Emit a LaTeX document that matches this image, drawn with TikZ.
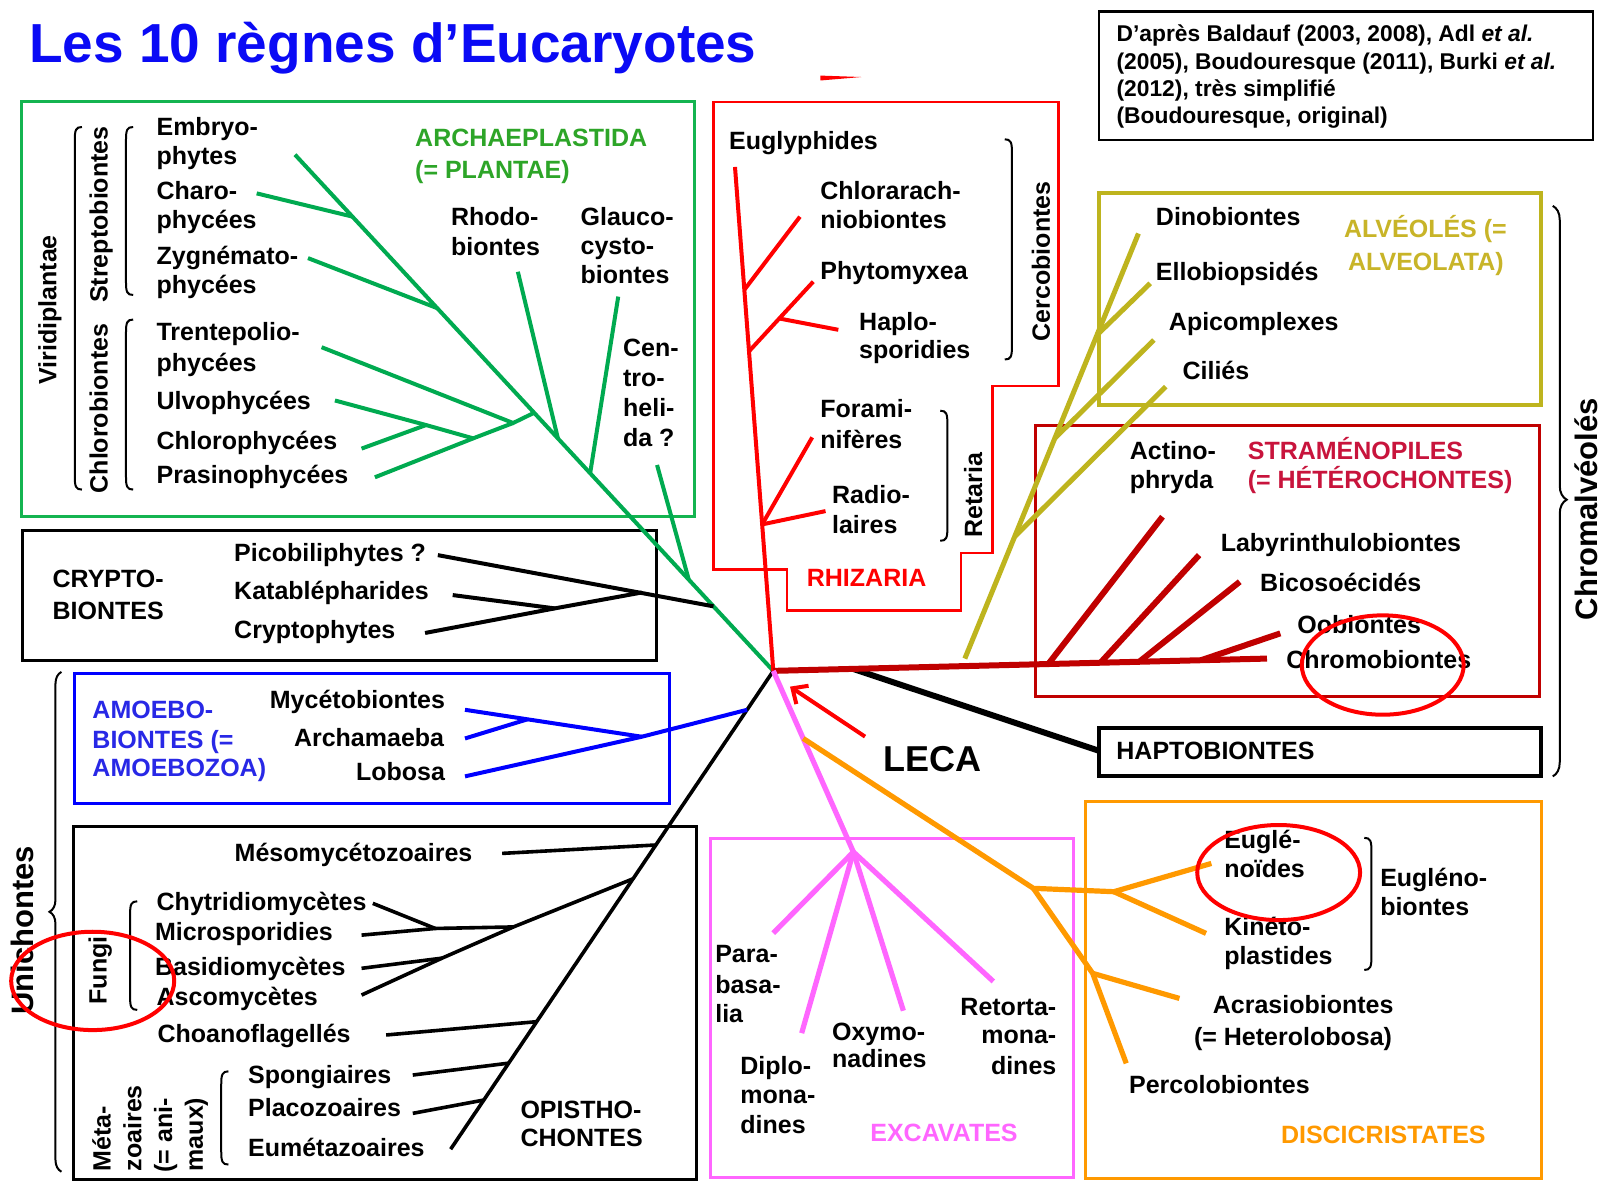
\documentclass[tikz,border=0pt]{standalone}
\usepackage{fontspec}
\setmainfont{Liberation Sans}
\usetikzlibrary{arrows.meta,decorations.pathreplacing}
\definecolor{cgreen}{RGB}{0,170,80}
\definecolor{cgreenbox}{RGB}{20,180,80}
\definecolor{cgreentxt}{RGB}{45,165,40}
\definecolor{cred}{RGB}{255,0,0}
\definecolor{colive}{RGB}{190,180,30}
\definecolor{colivetxt}{RGB}{200,180,40}
\definecolor{cdred}{RGB}{192,0,0}
\definecolor{cdredtxt}{RGB}{200,20,60}
\definecolor{cblue}{RGB}{0,0,255}
\definecolor{cbluetxt}{RGB}{40,40,230}
\definecolor{cpink}{RGB}{255,102,255}
\definecolor{corange}{RGB}{255,153,0}
\definecolor{ctitle}{RGB}{10,10,245}
\newcommand\labW[5][]{\node[lbl,anchor=base west,#1] (#2) at (#3,#4) {#5};}
\newcommand\labE[5][]{\node[lbl,anchor=base east,#1] (#2) at (#3,#4) {#5};}
\newcommand\labR[5][]{\node[lbl,anchor=base west,rotate=90,#1] (#2) at (#3,#4) {#5};}
\newcommand\lbrk[3]{\draw[brk] (#1+7,#2) .. controls (#1+1,#2) and (#1,#2+3) .. (#1,#2+13) -- (#1,#3-13) .. controls (#1,#3-3) and (#1+1,#3) .. (#1+7,#3);}
\newcommand\rbrk[3]{\draw[brk] (#1-7,#2) .. controls (#1-1,#2) and (#1,#2+3) .. (#1,#2+13) -- (#1,#3-13) .. controls (#1,#3-3) and (#1-1,#3) .. (#1-7,#3);}
\begin{document}
\begin{tikzpicture}[x=0.51212pt,y=-0.51212pt,
  lbl/.style={font=\bfseries\fontsize{12.5}{15}\selectfont, inner sep=0pt, text=black},
  big/.style={font=\bfseries\fontsize{15.5}{18}\selectfont},
  cit/.style={font=\bfseries\fontsize{11.4}{13.8}\selectfont},
  brk/.style={draw=black, line width=1pt},
  gline/.style={draw=cgreen, line width=2pt},
  rline/.style={draw=cred, line width=2pt},
  kline/.style={draw=black, line width=2pt},
  bline/.style={draw=cblue, line width=2pt},
  aline/.style={draw=colive, line width=2.5pt},
  dline/.style={draw=cdred, line width=3pt},
  pline/.style={draw=cpink, line width=2.6pt},
  oline/.style={draw=corange, line width=2.6pt},
  circ/.style={draw=cred, line width=2pt}
]
\useasboundingbox (0,0) rectangle (1568,1153);
\fill[white] (0,0) rectangle (1568,1153);

% ---------- title and citation
\node[anchor=base west, inner sep=0pt, font=\bfseries\fontsize{27.5}{30}\selectfont, text=ctitle] (title) at (28,61) {Les 10 règnes d’Eucaryotes};
\draw[black, line width=1.2pt] (1073,11.4) rectangle (1555.4,136.7);
\labW[cit]{tCit1}{1089.8}{40.7}{D’après Baldauf (2003, 2008), Adl \textit{et al.}}
\labW[cit]{tCit2}{1089.8}{67.7}{(2005), Boudouresque (2011), Burki \textit{et al.}}
\labW[cit]{tCit3}{1089.8}{94.4}{(2012), très simplifié}
\labW[cit]{tCit4}{1089.8}{120.4}{(Boudouresque, original)}
\fill[cred] (801,73.8) -- (841,75.2) -- (801,78.6) -- cycle;

% ---------- boxes
\draw[cgreenbox, line width=1.5pt] (21,99.3) rectangle (678,504.5);
\draw[cred, line width=1.2pt] (696.5,99.3) -- (1033.3,99.3) -- (1033.3,377) -- (969.2,377) -- (969.2,540) -- (938,540) -- (938,596) -- (768.5,596) -- (768.5,556) -- (696.5,556) -- cycle;
\draw[black, line width=1.5pt] (21.9,517.5) rectangle (641,644.4);
\draw[cblue, line width=1.5pt] (72.9,657.4) rectangle (653.3,784.3);
\draw[black, line width=1.5pt] (72,806.5) rectangle (680,1151.5);
\draw[colive, line width=2pt] (1073,188) rectangle (1505,395.4);
\draw[cdred, line width=1.5pt] (1011,415) rectangle (1503,680.5);
\draw[black, line width=2pt] (1073,711) rectangle (1504.6,758);
\coordinate (hapW) at (1073,733);
\draw[cpink, line width=1.5pt] (693.2,818.5) rectangle (1048,1150);
\draw[corange, line width=1.5pt] (1059.8,782.7) rectangle (1504.7,1151);

% ---------- root
\coordinate (R) at (755,655);

% ---------- green tree
\coordinate (gTop) at (288,151);
\coordinate (gCharo) at (344.1,211.5);
\coordinate (gZyg) at (427.2,301);
\coordinate (gChl) at (521.5,403);
\coordinate (gRho) at (544.7,428);
\coordinate (gGla) at (576.2,462);
\coordinate (gCen) at (672.5,566);
\coordinate (gCry) at (696.6,592);
\coordinate (eCharo) at (250.6,188.8);
\coordinate (eZyg) at (300.7,252);
\coordinate (eTren) at (314,339);
\coordinate (jTren) at (501,413);
\coordinate (eUlvo) at (327,391);
\coordinate (jUC) at (416,415);
\coordinate (eChlo) at (353,438);
\coordinate (jUCP) at (462,428);
\coordinate (ePras) at (366,466);
\coordinate (eRho) at (505.6,265.3);
\coordinate (eGla) at (603.6,289.6);
\coordinate (eCen) at (641.5,454);
\draw[gline] (R) -- (gTop);
\draw[gline] (eCharo) -- (gCharo);
\draw[gline] (eZyg) -- (gZyg);
\draw[gline] (eTren) -- (jTren) -- (gChl);
\draw[gline] (ePras) -- (jUCP) -- (jTren);
\draw[gline] (eUlvo) -- (jUC) -- (jUCP);
\draw[gline] (eChlo) -- (jUC);
\draw[gline] (eRho) -- (gRho);
\draw[gline] (eGla) -- (gGla);
\draw[gline] (eCen) -- (gCen);

% ---------- cryptobiontes
\coordinate (eP) at (427.5,542);
\coordinate (eK) at (442,581);
\coordinate (eC) at (415,618);
\coordinate (jKC) at (541.6,594);
\coordinate (jPK) at (626.6,578.5);
\draw[kline] (eP) -- (gCry);
\draw[kline] (eK) -- (jKC);
\draw[kline] (eC) -- (jKC) -- (jPK);

% ---------- opisthochontes
\coordinate (kEnd) at (440,1122);
\coordinate (kBlue) at (729.4,693);
\coordinate (kMes) at (640.3,825);
\coordinate (kFun) at (618.1,858);
\coordinate (kCho) at (524,997.5);
\coordinate (kSpo) at (496.7,1038);
\coordinate (kPla) at (472.4,1074);
\coordinate (eMes) at (490.3,833.2);
\coordinate (eChy) at (364,882);
\coordinate (jCM) at (425,906.5);
\coordinate (eMic) at (353,913);
\coordinate (jF) at (501.3,905);
\coordinate (eBas) at (353,945.4);
\coordinate (jBA) at (431.5,935.5);
\coordinate (eAsc) at (353,971.5);
\coordinate (eCho) at (377,1010.5);
\coordinate (eSpo) at (403,1049.6);
\coordinate (ePla) at (403,1087);
\draw[kline, line width=1.8pt] (R) -- (kEnd);
\draw[kline, line width=1.8pt] (eMes) -- (kMes);
\draw[kline, line width=1.8pt] (eChy) -- (jCM);
\draw[kline, line width=1.8pt] (eMic) -- (jCM) -- (jF);
\draw[kline, line width=1.8pt] (eAsc) -- (jBA) -- (jF) -- (kFun);
\draw[kline, line width=1.8pt] (eBas) -- (jBA);
\draw[kline, line width=1.8pt] (eCho) -- (kCho);
\draw[kline, line width=1.8pt] (eSpo) -- (kSpo);
\draw[kline, line width=1.8pt] (ePla) -- (kPla);

% ---------- amoebobiontes
\coordinate (eMyc) at (454,693);
\coordinate (eArc) at (454,721);
\coordinate (jMA) at (515,702.3);
\coordinate (eLob) at (454,758);
\coordinate (jL) at (626.6,719.3);
\draw[bline] (eMyc) -- (jL);
\draw[bline] (eArc) -- (jMA);
\draw[bline] (eLob) -- (jL) -- (kBlue);

% ---------- rhizaria
\coordinate (rTop) at (717.6,163);
\coordinate (rChl) at (726.7,283);
\coordinate (rPhy) at (731.3,343);
\coordinate (rRet) at (744.1,512);
\coordinate (eChlA) at (781,211.6);
\coordinate (ePhy) at (794,275);
\coordinate (jHap) at (761,311);
\coordinate (eHap) at (818.5,322);
\coordinate (eFor) at (793,427);
\coordinate (eRad) at (806,499);
\draw[rline] (R) -- (rTop);
\draw[rline] (rChl) -- (eChlA);
\draw[rline] (rPhy) -- (ePhy);
\draw[rline] (jHap) -- (eHap);
\draw[rline] (rRet) -- (eFor);
\draw[rline] (rRet) -- (eRad);

% ---------- alveolata
\coordinate (aBot) at (942,643);
\coordinate (aTop) at (1111.5,228);
\coordinate (aEll) at (1071.1,327);
\coordinate (aApi) at (1029.8,428);
\coordinate (aCil) at (990.6,524);
\coordinate (eEll) at (1123,276.6);
\coordinate (eApi) at (1126.5,332);
\coordinate (eCil) at (1138.2,377.5);
\draw[aline] (aBot) -- (aTop);
\draw[aline] (aEll) -- (eEll);
\draw[aline] (aApi) -- (eApi);
\draw[aline] (aCil) -- (eCil);

% ---------- stramenopiles and haptobiontes
\coordinate (drEnd) at (1237,643);
\coordinate (drAct) at (1023.5,648.3);
\coordinate (drLab) at (1074.5,647);
\coordinate (drBic) at (1112.3,646.1);
\coordinate (drOob) at (1172.6,644.6);
\coordinate (hStart) at (833,653.1);
\coordinate (eAct) at (1135,504.5);
\coordinate (eLab) at (1170.7,542);
\coordinate (eBic) at (1210.4,568);
\coordinate (eOob) at (1250,618.4);
\draw[kline, line width=3pt] (hStart) -- (hapW);
\draw[dline] (R) -- (drEnd);
\draw[dline] (drAct) -- (eAct);
\draw[dline] (drLab) -- (eLab);
\draw[dline] (drBic) -- (eBic);
\draw[dline] (drOob) -- (eOob);

% ---------- excavates and discicristates
\coordinate (pJ) at (833.2,831.8);
\coordinate (ePar) at (755,911);
\coordinate (eDip) at (782.7,1008.7);
\coordinate (eOxy) at (882,986.8);
\coordinate (eRet) at (969.8,958.2);
\coordinate (dS) at (784.2,721);
\coordinate (dJ1) at (1008.9,867.3);
\coordinate (jEug) at (1087.5,870.6);
\coordinate (eEug) at (1182.7,843);
\coordinate (eKin) at (1177.5,911.3);
\coordinate (jAcr) at (1066.8,950.3);
\coordinate (ePer) at (1099.6,1038.2);
\coordinate (eAcr) at (1151.5,974.8);
\draw[pline] (R) -- (pJ);
\draw[pline] (pJ) -- (ePar);
\draw[pline] (pJ) -- (eDip);
\draw[pline] (pJ) -- (eOxy);
\draw[pline] (pJ) -- (eRet);
\draw[oline] (dS) -- (dJ1) -- (jEug) -- (eEug);
\draw[oline] (jEug) -- (eKin);
\draw[oline] (dJ1) -- (jAcr) -- (ePer);
\draw[oline] (jAcr) -- (eAcr);

% ---------- LECA
\coordinate (lecaTail) at (844.6,719.2);
\coordinate (lecaHead) at (771.3,670.4);
\draw[cred, line width=2pt, -{Straight Barb[length=6pt,width=11pt]}] (lecaTail) -- (lecaHead);
\labW[font=\bfseries\fontsize{18}{20}\selectfont]{tLECA}{862.4}{752.8}{LECA}

% ---------- green labels
\labW{tEmb1}{152.5}{132}{Embryo-}
\labW{tEmb2}{152.5}{161}{phytes}
\labW{tCha1}{152.5}{195}{Charo-}
\labW{tCha2}{152.5}{223}{phycées}
\labW{tZyg1}{152.5}{258.7}{Zygnémato-}
\labW{tZyg2}{152.5}{286.4}{phycées}
\labW{tTre1}{152.5}{332}{Trentepolio-}
\labW{tTre2}{152.5}{363}{phycées}
\labW{tUlv}{152.5}{400.3}{Ulvophycées}
\labW{tChl}{152.5}{438.7}{Chlorophycées}
\labW{tPra}{152.5}{471.9}{Prasinophycées}
\labW[text=cgreentxt]{tArc1}{405}{143.2}{ARCHAEPLASTIDA}
\labW[text=cgreentxt]{tArc2}{405}{174}{(= PLANTAE)}
\labW{tRho1}{440}{219.7}{Rhodo-}
\labW{tRho2}{440}{249}{biontes}
\labW{tGla1}{566.5}{219.7}{Glauco-}
\labW{tGla2}{566.5}{248}{cysto-}
\labW{tGla3}{566.5}{277}{biontes}
\labW{tCen1}{608}{348}{Cen-}
\labW{tCen2}{608}{377.5}{tro-}
\labW{tCen3}{608}{407}{heli-}
\labW{tCen4}{608}{436}{da ?}
\labR{tStr}{105}{296}{Streptobiontes}
\labR{tChb}{105}{482}{Chlorobiontes}
\labR{tVir}{55}{376}{Viridiplantae}
\lbrk{73}{124}{478}
\lbrk{123}{124}{288}
\lbrk{123}{312}{478}

% ---------- crypto labels
\labW{tCry1}{51}{574}{CRYPTO-}
\labW{tCry2}{51}{604.5}{BIONTES}
\labW{tPic}{228.3}{548.4}{Picobiliphytes ?}
\labW{tKat}{228.3}{585.2}{Katablépharides}
\labW{tCrp}{228.3}{623.3}{Cryptophytes}

% ---------- amoebo labels
\labW[text=cbluetxt]{tAm1}{89.9}{701.4}{AMOEBO-}
\labW[text=cbluetxt]{tAm2}{89.9}{730.6}{BIONTES (=}
\labW[text=cbluetxt]{tAm3}{89.9}{758.3}{AMOEBOZOA)}
\labE{tMyc}{434.8}{691.6}{Mycétobiontes}
\labE{tArch}{434}{729}{Archamaeba}
\labE{tLob}{434.8}{762.2}{Lobosa}

% ---------- opistho labels
\labW{tMes}{228.8}{841.3}{Mésomycétozoaires}
\labW{tChy}{152.6}{888.5}{Chytridiomycètes}
\labW{tMic}{151}{917.8}{Microsporidies}
\labW{tBas}{151}{952}{Basidiomycètes}
\labW{tAsc}{152.6}{981.3}{Ascomycètes}
\labW{tCho}{153.4}{1018}{Choanoflagellés}
\labW{tSpo}{241.9}{1057.7}{Spongiaires}
\labW{tPla}{241.9}{1090.3}{Placozoaires}
\labW{tEum}{241.9}{1129.3}{Eumétazoaires}
\labW{tOp1}{507.8}{1091.9}{OPISTHO-}
\labW{tOp2}{507.8}{1119.6}{CHONTES}
\labR{tFun}{104}{981}{Fungi}
\labR{tMe1}{108}{1144}{Méta-}
\labR{tMe2}{138}{1144}{zoaires}
\labR{tMe3}{168}{1145}{(= ani-}
\labR{tMe4}{198}{1144}{maux)}
\labR[big]{tUni}{33}{991}{Unichontes}
\lbrk{127}{880}{986}
\lbrk{216}{1046}{1137}
\draw[brk, decorate, decoration={brace, amplitude=6pt, aspect=0.52}] (60,1144) -- (60,656);

% ---------- rhizaria labels
\labW{tEug}{711.5}{145.5}{Euglyphides}
\labW{tChA1}{800.6}{195}{Chlorarach-}
\labW{tChA2}{800.6}{223.1}{niobiontes}
\labW{tPhy}{800.6}{272.6}{Phytomyxea}
\labW{tHap1}{838.5}{323}{Haplo-}
\labW{tHap2}{838.5}{350.5}{sporidies}
\labW{tFor1}{800.6}{408}{Forami-}
\labW{tFor2}{800.6}{438}{nifères}
\labW{tRad1}{812}{492}{Radio-}
\labW{tRad2}{812}{520.5}{laires}
\labW[text=cred]{tRhi}{787.4}{572.7}{RHIZARIA}
\labR{tCer}{1025}{333.6}{Cercobiontes}
\labR{tRet}{959}{525}{Retaria}
\rbrk{988}{136}{351}
\rbrk{925}{401}{528}

% ---------- alveolata labels
\labW{tDin}{1128.2}{219.7}{Dinobiontes}
\labW{tEll}{1128.2}{273.4}{Ellobiopsidés}
\labW{tApi}{1140.9}{322.2}{Apicomplexes}
\labW{tCil}{1154.2}{371}{Ciliés}
\labW[text=colivetxt]{tAlv1}{1311.8}{231.7}{ALVÉOLÉS (=}
\labW[text=colivetxt]{tAlv2}{1315.8}{264.3}{ALVEOLATA)}

% ---------- stramenopiles labels
\labW{tAct1}{1102.8}{448.5}{Actino-}
\labW{tAct2}{1102.8}{476.8}{phryda}
\labW[text=cdredtxt]{tStr1}{1217.9}{448.5}{STRAMÉNOPILES}
\labW[text=cdredtxt]{tStr2}{1217.9}{476.8}{(= HÉTÉROCHONTES)}
\labW{tLab}{1191.5}{538.6}{Labyrinthulobiontes}
\labW{tBic}{1230}{577.7}{Bicosoécidés}
\labW{tOob}{1266.3}{618.4}{Oobiontes}
\labW{tChr}{1255.6}{652.5}{Chromobiontes}
\labW{tHapt}{1089.6}{742}{HAPTOBIONTES}
\labR[big]{tChv}{1560}{606}{Chromalvéolés}
\draw[brk, decorate, decoration={brace, amplitude=7pt, aspect=0.515}] (1516,201) -- (1516,758);

% ---------- excavates labels
\labW{tPar1}{698}{939.7}{Para-}
\labW{tPar2}{698}{969.9}{basa-}
\labW{tPar3}{698}{998.6}{lia}
\labW{tDip1}{722.5}{1049.1}{Diplo-}
\labW{tDip2}{722.5}{1077.7}{mona-}
\labW{tDip3}{722.5}{1106.3}{dines}
\labW{tOxy1}{812}{1015.4}{Oxymo-}
\labW{tOxy2}{812}{1042.4}{nadines}
\labE{tRet1}{1031.7}{991.2}{Retorta-}
\labE{tRet2}{1031.7}{1019}{mona-}
\labE{tRet3}{1031.7}{1049}{dines}
\labW[text=cpink]{tExc}{849.4}{1114.7}{EXCAVATES}

% ---------- discicristates labels
\labW{tEug1}{1194.9}{828.3}{Euglé-}
\labW{tEug2}{1194.9}{856.6}{noïdes}
\labW{tKin1}{1194.9}{912.9}{Kinéto-}
\labW{tKin2}{1194.9}{941.5}{plastides}
\labW{tEgb1}{1347.2}{865.7}{Eugléno-}
\labW{tEgb2}{1347.2}{893.4}{biontes}
\rbrk{1339}{818}{947}
\labW{tAcr1}{1183.8}{989.4}{Acrasiobiontes}
\labW{tAcr2}{1165.4}{1020.3}{(= Heterolobosa)}
\labW{tPer}{1102}{1067.5}{Percolobiontes}
\labW[text=corange]{tDis}{1250.3}{1116.3}{DISCICRISTATES}

% ---------- red annotation ellipses
\draw[circ] (1350,649.3) ellipse [x radius=79, y radius=48.5];
\draw[circ] (1248.4,851.9) ellipse [x radius=79.5, y radius=46.4];
\draw[circ] (90.5,957.7) ellipse [x radius=79.6, y radius=48];
\end{tikzpicture}
\end{document}
